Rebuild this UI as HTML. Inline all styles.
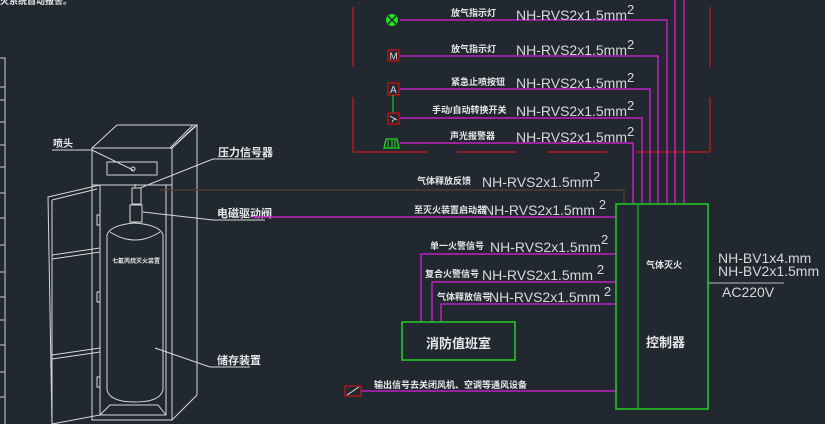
<!DOCTYPE html>
<html><head><meta charset="utf-8"><style>
html,body{margin:0;padding:0;background:#212830;width:825px;height:424px;overflow:hidden}
svg{display:block}
.c{font-family:"Liberation Sans","Noto Sans CJK SC",sans-serif;fill:#e8e8e8;font-weight:bold}
.n{font-family:"Liberation Sans",sans-serif;fill:#d8d8d8}
</style></head><body>
<svg width="825" height="424" viewBox="0 0 825 424" xmlns="http://www.w3.org/2000/svg">
<rect width="825" height="424" fill="#212830"/>
<text x="0" y="4" class="c" font-size="9">灭系统自动报警。</text>
<g stroke="#cfcfcf" stroke-width="1" fill="none">
<path d="M0 58H5V424"/>
<path d="M0 87H5M0 100H5M0 122H5M0 145H5M0 167H5M0 193H5M0 218H5M0 245H5M0 272H5M0 297H5M0 320H5M0 345H5M0 372H5M0 397H5"/>
</g>
<g stroke="#d8d8d8" stroke-width="1" fill="none">
<path d="M92 148L117 125H197L172 148Z"/>
<path d="M195 126L171 149M193 125L170 148"/>
<rect x="92" y="148" width="80" height="37"/>
<path d="M92 185V420H172V148M197 125V395L172 420"/>
<rect x="100" y="185" width="66" height="230"/>
<path d="M100 415L110 405H158L166 415"/>
<rect x="107" y="162" width="50" height="13"/>
<circle cx="133" cy="169" r="2"/>
<path d="M48 197L100 185V415L52 424Z"/>
<path d="M52 200L97 189M52 255L100 248M52 259L100 252M52 355L100 348M52 359L100 352"/>
<path d="M52 200V424"/>
<rect x="97" y="215" width="3" height="10"/><rect x="97" y="292" width="3" height="10"/><rect x="97" y="377" width="3" height="10"/>
<path d="M107 235Q110 225 135 223Q160 225 163 235V390Q160 402 135 402Q110 402 107 390Z"/>
<path d="M110 232Q135 248 160 232"/>
<rect x="130" y="205" width="12" height="17"/>
<rect x="132" y="188" width="9" height="16"/>
<path d="M135 184V188"/>
<path d="M52 150H92L133 170"/>
<path d="M265 159H213L140 188"/>
<path d="M265 220H213L143 212"/>
<path d="M250 367H210L155 348"/>
</g>
<text x="53" y="147" class="c" font-size="10">喷头</text>
<text x="218" y="156" class="c" font-size="11">压力信号器</text>
<text x="217" y="217" class="c" font-size="11">电磁驱动阀</text>
<text x="217" y="364" class="c" font-size="11">储存装置</text>
<text x="112" y="263" class="c" font-size="6">七氟丙烷灭火装置</text>
<g stroke="#b01818" stroke-width="1.5" fill="none">
<path d="M353 7V67M353 97V152M710 7V67M710 97V152"/>
<path d="M353 152H427M457 152H517M547 152H607M636 152H710"/>
</g>
<g stroke="#c020c0" stroke-width="1.5" fill="none">
<path d="M400 20H667V204"/>
<path d="M400 56H658V204"/>
<path d="M400 89H650V204"/>
<path d="M400 118H642V204"/>
<path d="M400 143H633V204"/>
<path d="M675 0V204M684 0V204"/>
<path d="M252 217H616"/>
<path d="M421 322V254H616"/>
<path d="M432 322V282H616"/>
<path d="M441 322V304H616"/>
<path d="M361 391H617"/>
</g>
<path d="M160 190H624V204" stroke="#5a4030" stroke-width="1.2" fill="none"/>
<circle cx="392" cy="20" r="6" fill="#20e020"/>
<path d="M388 16L396 24M396 16L388 24" stroke="#212830" stroke-width="1.5"/>
<rect x="388" y="50" width="11" height="11" fill="none" stroke="#d01010" stroke-width="1.2"/>
<text x="389.5" y="59.5" class="n" font-size="10">M</text>
<rect x="388" y="83" width="11" height="12" fill="none" stroke="#d01010" stroke-width="1.2"/>
<text x="390" y="93" class="n" font-size="10">A</text>
<path d="M393 95V113" stroke="#20e020" stroke-width="1"/>
<rect x="388" y="113" width="11" height="11" fill="none" stroke="#d01010" stroke-width="1.2"/>
<path d="M390 116L397 120M392 122L395 118" stroke="#e0e0e0" stroke-width="1"/>
<path d="M384 148L386 139H397L399 148Z" fill="none" stroke="#20e020" stroke-width="1.2"/>
<path d="M388 140V147M392 140V147M395 140V147" stroke="#20e020"/>
<rect x="345" y="386" width="16" height="10" fill="none" stroke="#d01010" stroke-width="1.2"/>
<path d="M347 395L359 387" stroke="#e0e0e0"/>
<g class="c" font-size="9">
<text x="451" y="16">放气指示灯</text>
<text x="451" y="52">放气指示灯</text>
<text x="451" y="85">紧急止喷按钮</text>
<text x="432" y="113">手动/自动转换开关</text>
<text x="450" y="139">声光报警器</text>
<text x="417" y="184">气体释放反馈</text>
<text x="414" y="213">至灭火装置启动器</text>
<text x="430" y="249">单一火警信号</text>
<text x="425" y="277">复合火警信号</text>
<text x="437" y="300">气体释放信号</text>
<text x="374" y="388">输出信号去关闭风机、空调等通风设备</text>
<text x="646" y="268">气体灭火</text>
</g>
<g class="n" font-size="14">
<text x="516" y="20">NH-RVS2x1.5mm<tspan font-size="13" dy="-6">2</tspan></text>
<text x="516" y="55">NH-RVS2x1.5mm<tspan font-size="13" dy="-6">2</tspan></text>
<text x="516" y="88">NH-RVS2x1.5mm<tspan font-size="13" dy="-6">2</tspan></text>
<text x="516" y="116">NH-RVS2x1.5mm<tspan font-size="13" dy="-6">2</tspan></text>
<text x="516" y="142">NH-RVS2x1.5mm<tspan font-size="13" dy="-6">2</tspan></text>
<text x="482" y="187">NH-RVS2x1.5mm<tspan font-size="13" dy="-6">2</tspan></text>
<text x="484" y="215">NH-RVS2x1.5mm <tspan font-size="13" dy="-6">2</tspan></text>
<text x="490" y="252">NH-RVS2x1.5mm<tspan font-size="13" dy="-8">2</tspan></text>
<text x="482" y="280">NH-RVS2x1.5mm <tspan font-size="13" dy="-6">2</tspan></text>
<text x="489" y="302">NH-RVS2x1.5mm <tspan font-size="13" dy="-6">2</tspan></text>
<text x="718" y="263">NH-BV1x4.mm</text>
<text x="718" y="276">NH-BV2x1.5mm</text>
<text x="722" y="297">AC220V</text>
</g>
<path d="M708 283H784" stroke="#bbbbbb" stroke-width="1"/>
<rect x="616" y="204" width="92" height="205" fill="none" stroke="#20d020" stroke-width="1.5"/>
<path d="M638 204V409" stroke="#20a020" stroke-width="1.5"/>
<rect x="402" y="322" width="113" height="38" fill="none" stroke="#20d020" stroke-width="1.5"/>
<text x="426" y="348" class="c" font-size="13" font-weight="normal">消防值班室</text>
<text x="646" y="347" class="c" font-size="13" font-weight="normal">控制器</text>
</svg>
</body></html>
